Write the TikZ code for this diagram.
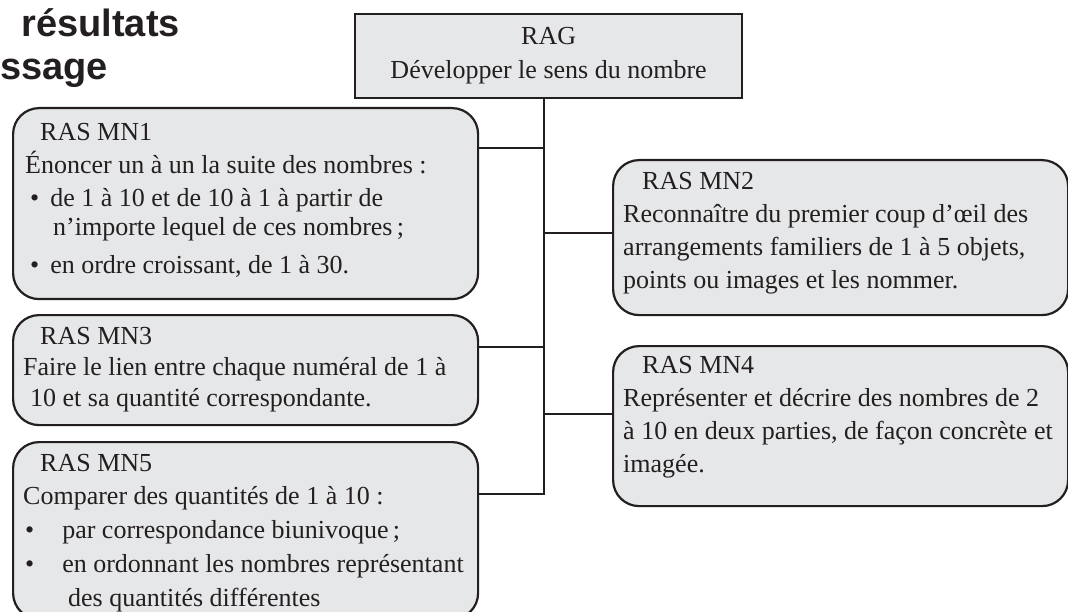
\documentclass[tikz,border=0pt]{standalone}
\usepackage{fontspec}
\setmainfont{Liberation Serif}
\newfontfamily\headfont{Liberation Sans}
\usepackage{tikz}
\usetikzlibrary{positioning,calc}
\definecolor{boxgray}{HTML}{E6E7E8}
\definecolor{inkblack}{HTML}{231F20}

\begin{document}
\begin{tikzpicture}[
  x=1pt, y=-1pt,
  rasbox/.style={draw=inkblack, fill=boxgray, line width=2.2pt,
               rounded corners=26pt, anchor=north west, inner sep=0pt},
  ragbox/.style={draw=inkblack, fill=boxgray, line width=2.2pt,
               anchor=north west, inner sep=0pt, align=center,
               font=\fontsize{26}{34}\selectfont, text=inkblack},
  body/.style={font=\fontsize{26}{33}\selectfont, align=left,
               inner sep=0pt, text=inkblack},
  heading/.style={font=\headfont\bfseries\fontsize{38}{42}\selectfont,
               anchor=base east, inner sep=0pt, text=inkblack},
  link/.style={draw=inkblack, line width=2.2pt},
]
\path[use as bounding box] (0,0) rectangle (1068,612);
\clip (0,0) rectangle (1068,612);

% Title (cut off at the left)
\node[heading] (title1) at (180,37) {résultats};
\node[heading] (title2) at (108,80) {ssage};

% General outcome
\node[ragbox, minimum width=387pt, minimum height=84pt] (rag) at (354,13)
  {RAG\\Développer le sens du nombre};

% Specific outcomes, left column
\node[rasbox, minimum width=465pt, minimum height=191pt] (mn1) at (12,107) {};
\node[rasbox, minimum width=465pt, minimum height=110pt] (mn3) at (12,314) {};
\node[rasbox, minimum width=465pt, minimum height=177pt] (mn5) at (12,441) {};

% Specific outcomes, right column
\node[rasbox, minimum width=455pt, minimum height=155pt] (mn2) at (612,159) {};
\node[rasbox, minimum width=455pt, minimum height=160pt] (mn4) at (612,345) {};

% Texts
\node[body, below right=16.5pt and 13pt of mn1.north west] (t1) {%
  \hspace*{15pt}RAS MN1\\
  Énoncer un à un la suite des nombres :\\
  \hspace*{5pt}\textbullet\hspace*{11pt}de 1 à 10 et de 10 à 1 à partir de\\[-4pt]
  \hspace*{28pt}n’importe lequel de ces nombres\,;\\[5pt]
  \hspace*{5pt}\textbullet\hspace*{11pt}en ordre croissant, de 1 à 30.};
\node[body, below right=13.5pt and 11pt of mn3.north west] (t3) {%
  \hspace*{17pt}RAS MN3\\[-2pt]
  Faire le lien entre chaque numéral de 1 à\\[-2pt]
  \hspace*{7pt}10 et sa quantité correspondante.};
\node[body, below right=13.5pt and 11pt of mn5.north west] (t5) {%
  \hspace*{17pt}RAS MN5\\
  Comparer des quantités de 1 à 10 :\\[1pt]
  \hspace*{2pt}\textbullet\hspace*{28pt}par correspondance biunivoque\,;\\[1pt]
  \hspace*{2pt}\textbullet\hspace*{28pt}en ordonnant les nombres représentant\\[1pt]
  \hspace*{45pt}des quantités différentes};
\node[body, below right=13.5pt and 11pt of mn2.north west] (t2) {%
  \hspace*{19pt}RAS MN2\\
  Reconnaître du premier coup d’œil des\\
  arrangements familiers de 1 à 5 objets,\\
  points ou images et les nommer.};
\node[body, below right=11.5pt and 11pt of mn4.north west] (t4) {%
  \hspace*{19pt}RAS MN4\\
  Représenter et décrire des nombres de 2\\
  à 10 en deux parties, de façon concrète et\\
  imagée.};

% Connectors
\coordinate (j1) at (544,148);
\coordinate (j2) at (544,233);
\coordinate (j3) at (544,347);
\coordinate (j4) at (544,414);
\coordinate (j5) at (544,494);
\draw[link] (rag.south -| j5) -- (j5) -- (mn5.east |- j5);
\draw[link] (j1) -- (mn1.east |- j1);
\draw[link] (j3) -- (mn3.east |- j3);
\draw[link] (j2) -- (mn2.west |- j2);
\draw[link] (j4) -- (mn4.west |- j4);

\end{tikzpicture}
\end{document}
